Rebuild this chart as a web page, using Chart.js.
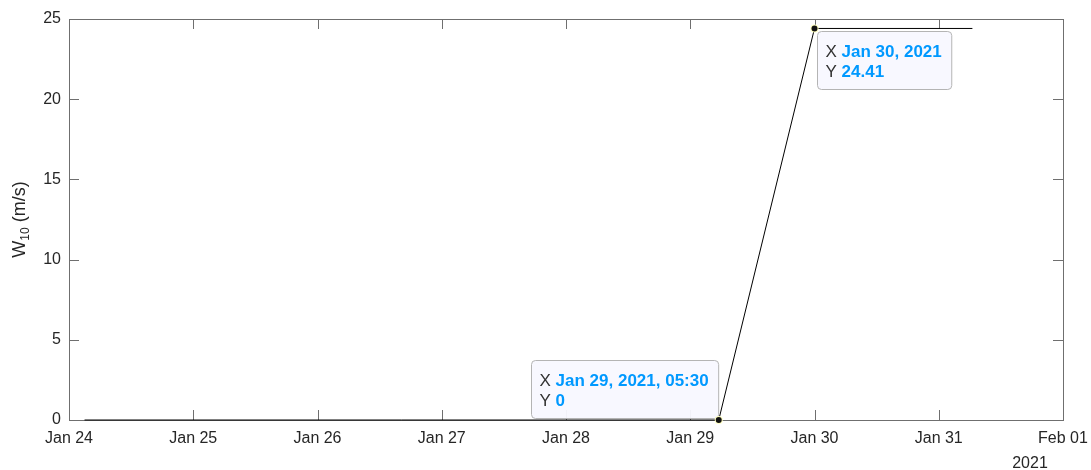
<!DOCTYPE html>
<html>
<head>
<meta charset="utf-8">
<script src="https://cdn.jsdelivr.net/npm/chart.js@4"></script>
<style>
  html, body { margin: 0; padding: 0; background: #fff; }
  #wrap { width: 1091px; height: 470px; }
</style>
</head>
<body>
<div id="wrap"><canvas id="windChart" width="1091" height="470"></canvas></div>
<script>
// values: sample times and 10 m wind speed
const sampleTimes = ['2021-01-24T03:00', '2021-01-29T05:30', '2021-01-30T00:00', '2021-01-31T06:30'];
const windSpeed = [0, 0, 24.41, 24.41];
const xTickLabels = ['Jan 24', 'Jan 25', 'Jan 26', 'Jan 27', 'Jan 28', 'Jan 29', 'Jan 30', 'Jan 31', 'Feb 01'];
const yTickValues = [0, 5, 10, 15, 20, 25];
const yearLabel = '2021';

// data tips shown on the plot
const tipIndexes = [1, 2];
const tipXText = ['Jan 29, 2021, 05:30', 'Jan 30, 2021'];
const tipYText = ['0', '24.41'];

const FONT = '"Liberation Sans", Arial, Helvetica, sans-serif';
const TEXT_COLOR = '#262626';
const AXIS_COLOR = '#6f6f6f';
const TIP_BLUE = 'rgb(0,153,255)';

// hours since Jan 24 00:00 (linear axis, no date adapter offline)
const startMs = Date.UTC(2021, 0, 24);
function toHours(s) {
  const [d, t] = s.split('T');
  const [yy, mm, dd] = d.split('-').map(Number);
  const [hh, mi] = t.split(':').map(Number);
  return (Date.UTC(yy, mm - 1, dd, hh, mi) - startMs) / 3600000;
}
const points = sampleTimes.map((s, i) => ({ x: toHours(s), y: windSpeed[i] }));
const xMax = (xTickLabels.length - 1) * 24;

// box, inward ticks, y label with subscript, year label
const matlabAxes = {
  id: 'matlabAxes',
  beforeDatasetsDraw(chart) {
    const { ctx, chartArea: a, scales } = chart;
    ctx.save();
    ctx.strokeStyle = AXIS_COLOR;
    ctx.lineWidth = 1;
    ctx.strokeRect(a.left + 0.5, a.top + 0.5, a.right - a.left, a.bottom - a.top);

    const tickLen = 10;
    ctx.beginPath();
    xTickLabels.forEach((lab, i) => {
      const px = Math.round(scales.x.getPixelForValue(i * 24)) + 0.5;
      ctx.moveTo(px, a.bottom); ctx.lineTo(px, a.bottom - tickLen);
      ctx.moveTo(px, a.top); ctx.lineTo(px, a.top + tickLen);
    });
    yTickValues.forEach(v => {
      const py = Math.round(scales.y.getPixelForValue(v)) + 0.5;
      ctx.moveTo(a.left, py); ctx.lineTo(a.left + tickLen, py);
      ctx.moveTo(a.right, py); ctx.lineTo(a.right - tickLen, py);
    });
    ctx.stroke();
    ctx.restore();
  },
  afterDraw(chart) {
    const { ctx, chartArea: a } = chart;
    ctx.save();
    ctx.fillStyle = TEXT_COLOR;

    // y axis label W_10 (m/s)
    const bigFont = '18px ' + FONT;
    const subFont = '12px ' + FONT;
    ctx.font = bigFont;
    const wW = ctx.measureText('W').width;
    const restW = ctx.measureText(' (m/s)').width;
    ctx.font = subFont;
    const subW = ctx.measureText('10').width;
    const total = wW + subW + restW;
    ctx.translate(25, (a.top + a.bottom) / 2);
    ctx.rotate(-Math.PI / 2);
    ctx.textBaseline = 'alphabetic';
    ctx.textAlign = 'left';
    let x0 = -total / 2;
    ctx.font = bigFont;
    ctx.fillText('W', x0, 0);
    x0 += wW;
    ctx.font = subFont;
    ctx.fillText('10', x0, 4);
    x0 += subW;
    ctx.font = bigFont;
    ctx.fillText(' (m/s)', x0, 0);
    ctx.setTransform(1, 0, 0, 1, 0, 0);

    // year under the last date tick
    ctx.font = '16px ' + FONT;
    ctx.textAlign = 'center';
    ctx.fillText(yearLabel, a.right - 33, 468);
    ctx.restore();
  }
};

// data tips: marker plus label box
const dataTips = {
  id: 'dataTips',
  afterDatasetsDraw(chart) {
    const { ctx, scales } = chart;
    const place = ['upLeft', 'downRight'];
    ctx.save();
    tipIndexes.forEach((idx, k) => {
      const px = scales.x.getPixelForValue(points[idx].x);
      const py = scales.y.getPixelForValue(points[idx].y);

      ctx.font = '17px ' + FONT;
      const lblX = ctx.measureText('X ').width;
      const lblY = ctx.measureText('Y ').width;
      ctx.font = 'bold 17px ' + FONT;
      const valX = ctx.measureText(tipXText[k]).width;
      const valY = ctx.measureText(tipYText[k]).width;
      const w = Math.max(lblX + valX, lblY + valY) + 18;
      const h = 58;
      let bx, by;
      if (place[k] === 'upLeft') { bx = px - 1 - w; by = py - 2 - h; }
      else { bx = px + 2; by = py + 3; }
      bx = Math.round(bx) + 0.5; by = Math.round(by) + 0.5;

      ctx.beginPath();
      ctx.roundRect(bx, by, w, h, 4);
      ctx.fillStyle = 'rgba(248,248,255,0.95)';
      ctx.fill();
      ctx.strokeStyle = '#b4b4b4';
      ctx.lineWidth = 1;
      ctx.stroke();

      ctx.textBaseline = 'alphabetic';
      ctx.textAlign = 'left';
      ctx.font = '17px ' + FONT;
      ctx.fillStyle = '#333';
      ctx.fillText('X ', bx + 8, by + 25);
      ctx.fillText('Y ', bx + 8, by + 45);
      ctx.font = 'bold 17px ' + FONT;
      ctx.fillStyle = TIP_BLUE;
      ctx.fillText(tipXText[k], bx + 8 + lblX, by + 25);
      ctx.fillText(tipYText[k], bx + 8 + lblY, by + 45);

      // marker
      ctx.beginPath();
      ctx.arc(px, py, 4, 0, Math.PI * 2);
      ctx.fillStyle = '#ffffc0';
      ctx.fill();
      ctx.beginPath();
      ctx.arc(px, py, 3, 0, Math.PI * 2);
      ctx.fillStyle = '#111';
      ctx.fill();
    });
    ctx.restore();
  }
};

const ctx = document.getElementById('windChart').getContext('2d');
new Chart(ctx, {
  type: 'line',
  data: {
    datasets: [{
      data: points,
      borderColor: '#000',
      borderWidth: 1,
      pointRadius: 0,
      tension: 0,
      clip: false
    }]
  },
  options: {
    responsive: false,
    animation: false,
    events: [],
    layout: { padding: { top: 19, right: 28, left: 0, bottom: 0 } },
    plugins: { legend: { display: false }, tooltip: { enabled: false } },
    scales: {
      x: {
        type: 'linear',
        min: 0,
        max: xMax,
        afterBuildTicks: s => { s.ticks = xTickLabels.map((l, i) => ({ value: i * 24 })); },
        afterFit: s => { s.height = 50; s.paddingLeft = 0; s.paddingRight = 0; },
        grid: { display: false, drawTicks: false },
        border: { display: false },
        ticks: {
          padding: 9,
          maxRotation: 0,
          autoSkip: false,
          color: TEXT_COLOR,
          font: { family: FONT, size: 16 },
          callback: (v) => xTickLabels[Math.round(v / 24)]
        }
      },
      y: {
        min: yTickValues[0],
        max: yTickValues[yTickValues.length - 1],
        afterBuildTicks: s => { s.ticks = yTickValues.map(v => ({ value: v })); },
        afterFit: s => { s.width = 69; s.paddingTop = 0; s.paddingBottom = 0; },
        grid: { display: false, drawTicks: false },
        border: { display: false },
        ticks: {
          padding: 8,
          color: TEXT_COLOR,
          font: { family: FONT, size: 16 }
        }
      }
    }
  },
  plugins: [matlabAxes, dataTips]
});
</script>
</body>
</html>
